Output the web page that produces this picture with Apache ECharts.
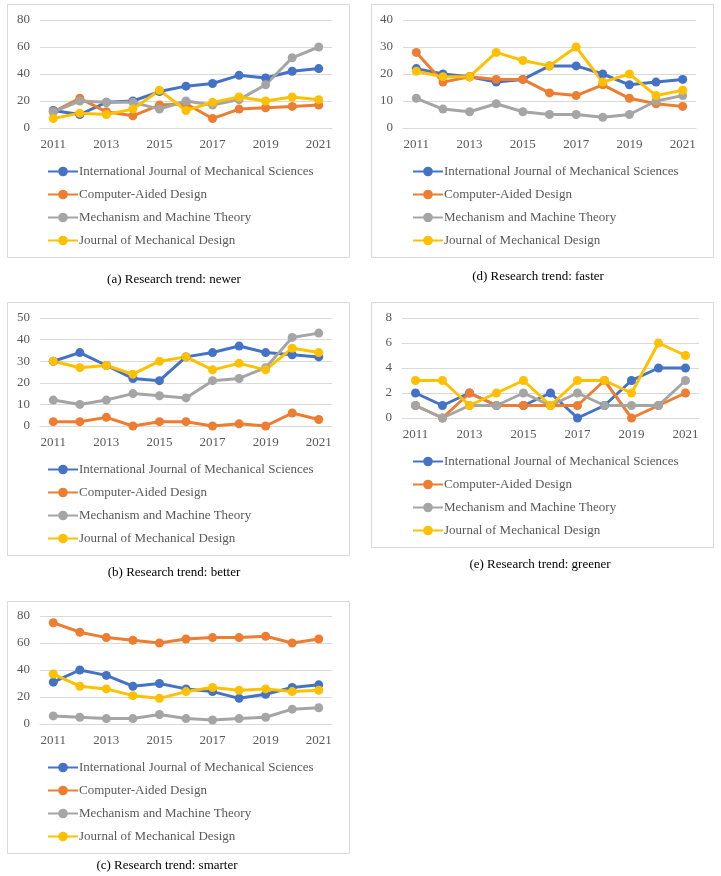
<!DOCTYPE html>
<html>
<head>
<meta charset="utf-8">
<script src="https://cdn.jsdelivr.net/npm/echarts@6/dist/echarts.min.js"></script>
<style>
html,body{margin:0;padding:0;background:#fff;}
#chart{width:721px;height:876px;}
</style>
</head>
<body>
<div id="chart"></div>
<script>
const years = ['2011','2012','2013','2014','2015','2016','2017','2018','2019','2020','2021'];
const journals = ['International Journal of Mechanical Sciences','Computer-Aided Design','Mechanism and Machine Theory','Journal of Mechanical Design'];
const colors = ['#4472C4','#ED7D31','#A5A5A5','#FFC000'];

// (a) newer
const newerIJMS = [13,10,19,20,27,31,33,39,37,42,44];
const newerCAD  = [12,22,12,9,17,18,7,14,15,16,17];
const newerMMT  = [12,20,19,19,14,20,17,21,32,52,60];
const newerJMD  = [7,11,10,14,28,13,19,23,20,23,21];
// (d) faster
const fasterIJMS = [22,20,19,17,18,23,23,20,16,17,18];
const fasterCAD  = [28,17,19,18,18,13,12,16,11,9,8];
const fasterMMT  = [11,7,6,9,6,5,5,4,5,10,12];
const fasterJMD  = [21,19,19,28,25,23,30,17,20,12,14];
// (b) better
const betterIJMS = [30,34,28,22,21,32,34,37,34,33,32];
const betterCAD  = [2,2,4,0,2,2,0,1,0,6,3];
const betterMMT  = [12,10,12,15,14,13,21,22,27,41,43];
const betterJMD  = [30,27,28,24,30,32,26,29,26,36,34];
// (e) greener
const greenerIJMS = [2,1,2,1,1,2,0,1,3,4,4];
const greenerCAD  = [1,0,2,1,1,1,1,3,0,1,2];
const greenerMMT  = [1,0,1,1,2,1,2,1,1,1,3];
const greenerJMD  = [3,3,1,2,3,1,3,3,2,6,5];
// (c) smarter
const smarterIJMS = [31,40,36,28,30,26,24,19,22,27,29];
const smarterCAD  = [75,68,64,62,60,63,64,64,65,60,63];
const smarterMMT  = [6,5,4,4,7,4,3,4,5,11,12];
const smarterJMD  = [37,28,26,21,19,24,27,25,26,24,25];

const yMax = [80, 40, 50, 8, 80];
const yInterval = [20, 10, 10, 2, 20];
const captions = ['(a) Research trend: newer','(d) Research trend: faster','(b) Research trend: better','(e) Research trend: greener','(c) Research trend: smarter'];
const panelData = [
  [newerIJMS,newerCAD,newerMMT,newerJMD],
  [fasterIJMS,fasterCAD,fasterMMT,fasterJMD],
  [betterIJMS,betterCAD,betterMMT,betterJMD],
  [greenerIJMS,greenerCAD,greenerMMT,greenerJMD],
  [smarterIJMS,smarterCAD,smarterMMT,smarterJMD]
];

// layout
const grids = [
  {left:40, top:20, width:292, height:108},
  {left:403, top:20, width:293, height:108},
  {left:40, top:318, width:292, height:108},
  {left:402, top:318, width:297, height:100},
  {left:40, top:616, width:292, height:108}
];
const boxes = [
  {x:7, y:4, w:342, h:253},
  {x:371, y:4, w:342, h:253},
  {x:7, y:302, w:342, h:253},
  {x:371, y:302, w:342, h:245},
  {x:7, y:601, w:342, h:252}
];
const legendPos = [
  {left:42, top:160},
  {left:407, top:160},
  {left:42, top:458},
  {left:407, top:450},
  {left:42, top:756}
];
const captionPos = [
  {x:174, y:280},
  {x:538, y:277},
  {x:174, y:573},
  {x:540, y:565},
  {x:167, y:866}
];

const serif = '"Liberation Serif","Times New Roman",serif';
const labelColor = '#595959';
const gridColor = '#D9D9D9';

const option = {
  animation:false,
  backgroundColor:'#fff',
  grid: grids,
  xAxis: grids.map((g,i)=>({
    type:'category', gridIndex:i, data:years, boundaryGap:true,
    axisLine:{show:true, lineStyle:{color:gridColor, width:1}},
    axisTick:{show:false},
    axisLabel:{interval:1, color:labelColor, fontFamily:serif, fontSize:13, margin:10}
  })),
  yAxis: grids.map((g,i)=>({
    type:'value', gridIndex:i, min:0, max:yMax[i], interval:yInterval[i],
    axisLine:{show:false}, axisTick:{show:false},
    splitLine:{lineStyle:{color:gridColor, width:1}},
    axisLabel:{color:labelColor, fontFamily:serif, fontSize:13, margin:10}
  })),
  legend: legendPos.map(p=>({
    orient:'vertical', left:p.left, top:p.top, data:journals,
    itemWidth:30, itemHeight:12, itemGap:10,
    textStyle:{color:labelColor, fontFamily:serif, fontSize:13, padding:[0,0,0,-4]},
    selectedMode:false
  })),
  series: [],
  graphic: []
};

panelData.forEach((arrs,p)=>{
  arrs.forEach((vals,k)=>{
    option.series.push({
      type:'line', name:journals[k], xAxisIndex:p, yAxisIndex:p, data:vals,
      symbol:'circle', symbolSize:9,
      lineStyle:{color:colors[k], width:3},
      itemStyle:{color:colors[k]}
    });
  });
});

boxes.forEach(b=>{
  option.graphic.push({
    type:'rect', z:-1, silent:true,
    shape:{x:b.x+0.5, y:b.y+0.5, width:b.w, height:b.h},
    style:{fill:'none', stroke:gridColor, lineWidth:1}
  });
});
captionPos.forEach((c,i)=>{
  option.graphic.push({
    type:'text', silent:true, x:c.x, y:c.y,
    style:{text:captions[i], fill:'#000', font:'13px ' + serif, textAlign:'center', textVerticalAlign:'middle'}
  });
});

const chart = echarts.init(document.getElementById('chart'), null, {renderer:'canvas'});
chart.setOption(option);
</script>
</body>
</html>
